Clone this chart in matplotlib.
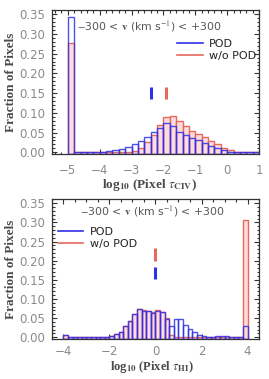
import numpy as np
import matplotlib
matplotlib.use('Agg')
import matplotlib.pyplot as plt
from matplotlib.lines import Line2D
from matplotlib.ticker import MultipleLocator, FormatStrFormatter

plt.rcParams['mathtext.fontset'] = 'stix'

# ---------------- data ----------------
civ_bin_left = [-5.0, -4.8, -4.6, -4.4, -4.2, -4.0, -3.8, -3.6, -3.4, -3.2,
                -3.0, -2.8, -2.6, -2.4, -2.2, -2.0, -1.8, -1.6, -1.4, -1.2,
                -1.0, -0.8, -0.6, -0.4, -0.2, 0.0, 0.2, 0.4, 0.6, 0.8]
civ_pod = [0.342, 0.0, 0.0005, 0.0008, 0.001, 0.0015, 0.003, 0.005, 0.009, 0.014,
           0.021, 0.029, 0.040, 0.052, 0.062, 0.074, 0.066, 0.051, 0.043, 0.035,
           0.031, 0.023, 0.017, 0.010, 0.005, 0.002, 0.001, 0.0005, 0.0, 0.0]
civ_nopod = [0.278, 0.0, 0.0002, 0.0003, 0.0004, 0.0005, 0.0006, 0.0008, 0.001, 0.002,
             0.004, 0.010, 0.025, 0.044, 0.069, 0.089, 0.092, 0.080, 0.067, 0.054,
             0.047, 0.038, 0.029, 0.020, 0.012, 0.006, 0.002, 0.001, 0.0, 0.0]

hi_bin_left = [-4.0, -3.8, -3.6, -3.4, -3.2, -3.0, -2.8, -2.6, -2.4, -2.2,
               -2.0, -1.8, -1.6, -1.4, -1.2, -1.0, -0.8, -0.6, -0.4, -0.2,
               0.0, 0.2, 0.4, 0.6, 0.8, 1.0, 1.2, 1.4, 1.6, 1.8,
               2.0, 2.2, 2.4, 2.6, 2.8, 3.0, 3.2, 3.4, 3.6, 3.8]
hi_pod = [0.005, 0.0, 0.0, 0.0, 0.0, 0.0, 0.0005, 0.001, 0.0015, 0.002,
          0.003, 0.008, 0.014, 0.029, 0.042, 0.061, 0.074, 0.069, 0.068, 0.064,
          0.069, 0.065, 0.048, 0.030, 0.047, 0.047, 0.031, 0.022, 0.013, 0.007,
          0.004, 0.002, 0.001, 0.003, 0.004, 0.004, 0.002, 0.001, 0.0, 0.030]
hi_nopod = [0.005, 0.0, 0.0, 0.0, 0.0, 0.0, 0.0005, 0.001, 0.0015, 0.002,
            0.003, 0.008, 0.014, 0.029, 0.042, 0.062, 0.075, 0.070, 0.069, 0.065,
            0.070, 0.066, 0.050, 0.006, 0.0, 0.0, 0.0, 0.0, 0.0, 0.0,
            0.0, 0.0, 0.0, 0.0, 0.0, 0.0, 0.0, 0.0, 0.0, 0.305]

# median markers: (x, y_low, y_high)
civ_median_pod = (-2.38, 0.135, 0.165)
civ_median_nopod = (-1.93, 0.135, 0.165)
hi_median_pod = (0.0, 0.153, 0.184)
hi_median_nopod = (0.0, 0.200, 0.232)

bin_width = 0.2
series_labels = ['POD', 'w/o POD']
civ_xticks = [-5, -4, -3, -2, -1, 0, 1]
hi_xticks = [-4, -2, 0, 2, 4]
yticks = [0.00, 0.05, 0.10, 0.15, 0.20, 0.25, 0.30, 0.35]

# ---------------- style ----------------
BLUE = '#3030e8'
RED = '#e46a5e'
PINK = '#fcdcdc'
TICKC = '#8a8a8a'
LABC = '#4a4a4a'
YMIN, YMAX = -0.004, 0.361

fig = plt.figure(figsize=(2.69, 3.79), dpi=100)
ax1 = fig.add_axes([0.193, 0.594, 0.770, 0.380])
ax2 = fig.add_axes([0.193, 0.106, 0.770, 0.369])


def draw_panel(ax, left, pod, nopod, med_pod, med_nopod, xlim, xticks, xminor,
               xlabel, title_xy, leg_xy, xlabel_xy, xlabel_size, xpad):
    left = np.asarray(left)
    ax.bar(left, np.asarray(nopod) - YMIN, width=bin_width, bottom=YMIN,
           align='edge', facecolor=PINK, edgecolor=RED, linewidth=1.0, zorder=2)
    ax.bar(left, np.asarray(pod) - YMIN, width=bin_width, bottom=YMIN,
           align='edge', facecolor='none', edgecolor=BLUE, linewidth=1.0,
           alpha=0.85, zorder=3)
    ax.vlines(med_pod[0], med_pod[1], med_pod[2], color=BLUE, linewidth=2.2, zorder=4)
    ax.vlines(med_nopod[0], med_nopod[1], med_nopod[2], color=RED, linewidth=2.2, zorder=4)

    ax.set_xlim(*xlim)
    ax.set_ylim(YMIN, YMAX)
    ax.set_xticks(xticks)
    ax.xaxis.set_minor_locator(MultipleLocator(xminor))
    ax.set_yticks(yticks)
    ax.yaxis.set_minor_locator(MultipleLocator(0.01))
    ax.yaxis.set_major_formatter(FormatStrFormatter('%.2f'))
    ax.tick_params(which='both', direction='in', top=True, right=True,
                   colors='#333333', labelcolor=TICKC, labelsize=8.5, width=0.8)
    ax.tick_params(which='major', length=3.5)
    ax.tick_params(which='minor', length=1.8)
    ax.tick_params(axis='x', pad=xpad)
    ax.tick_params(axis='y', pad=5)
    for lab in ax.get_xticklabels() + ax.get_yticklabels():
        lab.set_fontfamily('DejaVu Sans')
    for s in ax.spines.values():
        s.set_color('#333333')
        s.set_linewidth(0.9)

    ax.set_ylabel('Fraction of Pixels', fontfamily='Liberation Serif',
                  fontweight='bold', fontsize=9.5, color=LABC)
    ax.yaxis.set_label_coords(-0.17, 0.5)
    ax.set_xlabel(xlabel, fontfamily='Liberation Serif', fontweight='bold',
                  fontsize=xlabel_size, color=LABC)
    ax.xaxis.set_label_coords(*xlabel_xy)

    ax.text(title_xy[0], title_xy[1],
            r'$-$300 < $\mathbf{v}$ (km s$^{-1}$) < +300',
            transform=ax.transAxes, ha='center', va='center',
            fontsize=7.8, color='#555555', fontfamily='DejaVu Sans')

    handles = [Line2D([], [], color=BLUE, linewidth=1.2),
               Line2D([], [], color=RED, linewidth=1.2)]
    leg = ax.legend(handles, series_labels, loc='upper left',
                    bbox_to_anchor=leg_xy, frameon=False, fontsize=8,
                    borderpad=0, borderaxespad=0, handlelength=2.3,
                    handletextpad=0.6, labelspacing=0.15)
    for t in leg.get_texts():
        t.set_color('#222222')


draw_panel(ax1, civ_bin_left, civ_pod, civ_nopod, civ_median_pod, civ_median_nopod,
           (-5.5, 1.0), civ_xticks, 0.2,
           r'log$_{\mathbf{10}}$ (Pixel $\tau_{\mathbf{CIV}}$)',
           (0.47, 0.882), (0.604, 0.795), (0.469, -0.16), 9.5, 7)
draw_panel(ax2, hi_bin_left, hi_pod, hi_nopod, hi_median_pod, hi_median_nopod,
           (-4.5, 4.5), hi_xticks, 0.5,
           r'log$_{\mathbf{10}}$ (Pixel $\tau_{\mathbf{HI}}$)',
           (0.483, 0.91), (0.029, 0.80), (0.483, -0.145), 9.0, 4.5)

fig.savefig('out.png', dpi=100)
